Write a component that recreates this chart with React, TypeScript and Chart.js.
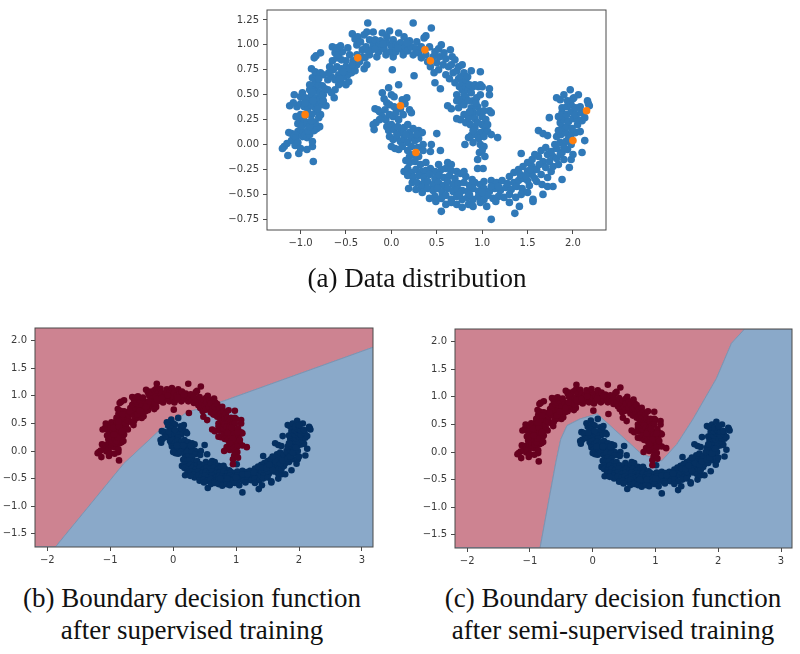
import React, { useEffect, useRef } from "react";
import { Chart, registerables } from "chart.js";

Chart.register(...registerables);

type P = [number, number];

const upperMoon: P[] = [
  [-1.2,-0.04],[-1.18,-0.02],[-1.15,0.01],[-1.14,-0.11],[-1.13,0.12],[-1.1,0.11],[-1.1,0.04],[-1.07,0.09],[-1.06,-0.01],[-1.05,0.07],
  [-1.03,0.02],[-1.02,-0.09],[-1,-0.04],[-1.03,0.13],[-1,0.15],[-0.98,0.08],[-0.97,0.12],[-0.95,0.1],[-0.93,0.07],[-0.93,-0.05],
  [-0.9,0.1],[-0.87,-0.02],[-0.87,0.03],[-0.86,-0.17],[-1.03,0.21],[-1.01,0.25],[-0.98,0.19],[-1.05,0.28],[-1,0.3],[-0.97,0.26],
  [-0.93,0.22],[-0.85,0.14],[-0.86,0.18],[-0.82,0.16],[-0.79,0.18],[-0.84,0.22],[-0.8,0.27],[-0.78,0.3],[-0.83,0.33],[-0.88,0.3],
  [-1.12,0.39],[-1.04,0.38],[-1.08,0.42],[-1,0.41],[-0.96,0.38],[-0.92,0.36],[-0.89,0.4],[-0.85,0.38],[-0.82,0.41],[-0.76,0.4],
  [-0.72,0.39],[-1.07,0.5],[-1,0.48],[-0.98,0.52],[-0.95,0.47],[-0.91,0.46],[-0.88,0.5],[-0.83,0.47],[-0.79,0.45],[-0.75,0.44],
  [-0.9,0.55],[-0.86,0.57],[-0.82,0.54],[-0.78,0.52],[-0.75,0.5],[-0.84,0.62],[-0.8,0.6],[-0.76,0.59],[-0.73,0.56],[-0.9,0.6],
  [-0.87,0.67],[-0.83,0.7],[-0.88,0.76],[-0.84,0.73],[-0.78,0.72],[-0.75,0.7],[-0.85,0.87],[-0.83,0.89],[-0.78,0.92],
  [-0.7,0.55],[-0.66,0.52],[-0.63,0.47],[-0.62,0.55],[-0.58,0.6],[-0.7,0.65],[-0.66,0.68],[-0.62,0.65],[-0.55,0.62],[-0.5,0.6],
  [-0.47,0.63],[-0.58,0.7],[-0.52,0.68],[-0.48,0.7],[-0.44,0.72],[-0.68,0.78],[-0.64,0.75],[-0.6,0.78],[-0.55,0.76],[-0.5,0.78],
  [-0.46,0.76],[-0.4,0.74],[-0.65,0.84],[-0.6,0.87],[-0.55,0.85],[-0.5,0.84],[-0.46,0.9],[-0.62,0.92],[-0.58,0.9],[-0.54,0.93],
  [-0.65,0.98],[-0.6,0.97],[-0.56,0.99],[-0.48,0.97],[-0.42,0.84],[-0.38,0.8],[-0.35,0.83],[-0.32,0.88],[-0.3,0.76],[-0.27,0.8],
  [-0.43,1.11],[-0.4,1.06],[-0.37,1.08],[-0.38,1],[-0.34,1.03],[-0.3,1.1],[-0.26,1.22],[-0.27,1.13],[-0.24,1.05],[-0.32,0.95],
  [-0.28,0.98],[-0.24,0.9],[-0.22,0.95],[-0.2,1.13],[-0.2,1],[-0.18,1.05],[-0.16,0.88],[-0.14,0.93],[-0.14,0.99],[-0.12,1.04],
  [-0.1,1.12],[-0.08,0.96],[-0.06,0.9],[-0.05,1.02],[-0.05,1.08],[-0.02,1.14],[-0.01,0.93],[0,0.99],[0.02,1.05],[0.02,0.88],
  [0.01,0.75],[0.05,1],[0.05,0.93],[0.08,1.12],[0.1,1.02],[0.12,0.95],[0.13,0.9],[0.15,0.98],[0.14,1.08],[0.18,0.94],
  [0.2,1.04],[0.22,0.98],[0.24,0.9],[0.24,1.22],[0.25,0.69],[0.27,0.96],[0.28,1.03],[0.3,0.92],[0.33,0.98],[0.33,0.87],
  [0.36,1.07],[0.38,1.09],[0.38,0.9],[0.4,0.83],[0.42,0.98],[0.43,0.78],[0.44,1.17],[0.46,0.88],[0.47,0.72],[0.48,0.93],
  [0.48,0.62],[0.5,0.82],[0.52,0.75],[0.52,0.96],[0.53,0.88],[0.54,0.56],[0.55,1],[0.57,0.8],[0.58,0.92],[0.6,0.7],
  [0.6,0.86],[0.63,0.78],[0.64,0.66],[0.65,0.95],[0.67,0.88],[0.68,0.72],[0.66,0.8],[0.7,0.62],[0.7,0.85],[0.72,0.74],
  [0.72,0.5],[0.74,0.66],[0.74,0.78],[0.75,0.58],[0.76,0.68],[0.78,0.62],[0.78,0.8],[0.78,0.55],[0.8,0.72],[0.8,0.5],
  [0.82,0.65],[0.82,0.58],[0.84,0.68],[0.85,0.55],[0.86,0.6],[0.88,0.74],[0.88,0.52],[0.9,0.58],[0.92,0.6],[0.96,0.58],
  [0.98,0.6],[0.98,0.73],[1,0.58],[1.08,0.56],[1.08,0.5],[0.76,0.45],[0.72,0.44],[0.74,0.37],[0.78,0.42],[0.8,0.4],
  [0.82,0.48],[0.85,0.44],[0.88,0.37],[0.9,0.44],[0.94,0.47],[0.98,0.5],[0.62,0.39],[0.66,0.36],[0.72,0.26],[0.76,0.25],
  [0.8,0.3],[0.82,0.22],[0.85,0.27],[0.87,0.2],[0.9,0.32],[0.92,0.26],[0.95,0.38],[0.97,0.32],[1,0.28],[1.03,0.41],
  [1.04,0.25],[1.08,0.34],[1.1,0.32],[1,0.2],[1.03,0.15],[1.06,0.13],[0.98,0.12],[0.93,0.1],[0.88,0.09],[0.85,0.07],
  [0.9,0.02],[0.96,0.06],[1.02,0.08],[1.1,0.1],[1.17,0.07],[0.98,0],[1.02,-0.02],[0.97,-0.08],[0.95,-0.15],[1,-0.06],
  [0.95,-0.24],[1.03,-0.12],[0.81,0],[0.92,0.17],[0.95,0.22],[1.06,0.2],[0.9,0.14],[1.02,0.34],[0.86,0.33],[0.93,0.42],
  [-0.92,0.14],[-0.9,0.18],[-0.88,0.24],[-0.94,0.3],[-0.95,0.42],[-0.86,0.44],[-0.81,0.36],[-0.87,0.53],[-0.8,0.66],[-0.69,0.72],
  [-0.57,0.66],[-0.53,0.73],[-0.43,0.8],[-0.38,0.9],[-0.29,0.87],[-0.26,0.94],[-0.18,0.96],[-0.09,1.01],[0.07,0.97],[0.17,1.02],
];

const lowerMoon: P[] = [
  [-0.1,0.52],[-0.03,0.57],[0.08,0.6],[0,0.5],[-0.08,0.46],[0.03,0.48],[0.12,0.45],[0.17,0.47],[0.15,0.41],[-0.05,0.42],
  [-0.02,0.4],[-0.18,0.36],[-0.15,0.35],[-0.13,0.33],[0.1,0.36],[0.13,0.3],[0.2,0.35],[0.22,0.32],[-0.1,0.28],[-0.06,0.25],
  [-0.02,0.3],[0.02,0.28],[0.05,0.32],[0.08,0.25],[-0.13,0.25],[-0.17,0.22],[-0.2,0.2],[-0.19,0.15],[-0.05,0.18],[-0.03,0.14],
  [0,0.2],[0.03,0.15],[0.07,0.18],[0.1,0.12],[0.14,0.17],[0.18,0.2],[0.2,0.12],[0.24,0.16],[0.3,0.14],[0.34,0.12],
  [0.5,0.11],[-0.02,0.08],[0.02,0.05],[0.06,0.07],[0.1,0.03],[0.14,0.06],[0.18,0.02],[0.22,0.07],[0.26,0.04],[0.3,0.06],
  [0.35,0],[0.44,0],[0,-0.02],[0.04,-0.04],[0.08,-0.05],[0.12,-0.02],[0.18,-0.06],[0.22,-0.02],[0.29,-0.03],[0.35,-0.06],
  [0.43,-0.07],[0.54,-0.06],[0.2,-0.12],[0.24,-0.1],[0.3,-0.12],[0.16,-0.16],[0.2,-0.18],[0.26,-0.17],[0.32,-0.2],[0.38,-0.18],
  [0.52,-0.2],[0.62,-0.18],[0.66,-0.2],[0.14,-0.27],[0.18,-0.24],[0.22,-0.28],[0.27,-0.25],[0.33,-0.27],[0.38,-0.26],[0.43,-0.24],
  [0.48,-0.27],[0.55,-0.25],[0.6,-0.24],[0.66,-0.26],[0.72,-0.27],[0.18,-0.31],[0.24,-0.33],[0.3,-0.31],[0.36,-0.33],[0.42,-0.3],
  [0.48,-0.34],[0.53,-0.31],[0.58,-0.33],[0.64,-0.31],[0.7,-0.34],[0.76,-0.29],[0.82,-0.32],[0.89,-0.35],[0.8,-0.27],[1.01,-0.24],
  [0.23,-0.38],[0.28,-0.38],[0.35,-0.39],[0.4,-0.37],[0.46,-0.4],[0.52,-0.38],[0.57,-0.41],[0.62,-0.37],[0.68,-0.4],[0.74,-0.39],
  [0.8,-0.38],[0.86,-0.41],[0.92,-0.38],[0.98,-0.4],[1.02,-0.37],[1.1,-0.36],[1.16,-0.38],[1.22,-0.36],[1.3,-0.32],[1.35,-0.38],
  [0.19,-0.44],[0.33,-0.43],[0.34,-0.48],[0.4,-0.44],[0.46,-0.46],[0.51,-0.44],[0.56,-0.48],[0.62,-0.44],[0.68,-0.47],[0.73,-0.45],
  [0.78,-0.46],[0.84,-0.47],[0.9,-0.44],[0.96,-0.47],[1.02,-0.44],[1.08,-0.47],[1.14,-0.44],[1.2,-0.46],[1.26,-0.43],[1.32,-0.45],
  [1.38,-0.42],[1.44,-0.44],[1.52,-0.41],[0.42,-0.54],[0.48,-0.52],[0.55,-0.54],[0.6,-0.51],[0.66,-0.55],[0.72,-0.52],[0.78,-0.55],
  [0.84,-0.53],[0.9,-0.55],[0.96,-0.52],[1.02,-0.55],[1.06,-0.51],[1.12,-0.54],[1.18,-0.52],[1.24,-0.53],[1.3,-0.5],[1.37,-0.53],
  [1.43,-0.5],[1.5,-0.48],[1.56,-0.55],[1.56,-0.57],[1.67,-0.5],[0.49,-0.57],[0.55,-0.67],[0.6,-0.6],[0.66,-0.58],[0.72,-0.6],
  [0.78,-0.63],[0.85,-0.6],[0.9,-0.62],[0.98,-0.58],[1.05,-0.62],[1.1,-0.75],[1.15,-0.57],[1.36,-0.69],[1.41,-0.62],[1.3,-0.58],
  [1.4,-0.36],[1.45,-0.34],[1.5,-0.36],[1.55,-0.3],[1.6,-0.37],[1.66,-0.4],[1.72,-0.42],[1.78,-0.42],[1.65,-0.3],[1.72,-0.33],
  [1.4,-0.25],[1.45,-0.22],[1.5,-0.27],[1.55,-0.22],[1.6,-0.25],[1.76,-0.27],[1.78,-0.22],[1.88,-0.35],[1.43,-0.09],[1.5,-0.18],
  [1.55,-0.15],[1.62,-0.12],[1.67,-0.17],[1.72,-0.1],[1.78,-0.12],[1.84,-0.2],[1.9,-0.15],[1.96,-0.23],[1.98,-0.15],[1.65,-0.06],
  [1.7,-0.03],[1.76,-0.07],[1.82,-0.04],[1.88,-0.08],[1.94,-0.05],[2,-0.1],[1.8,0],[1.86,0.02],[1.92,0.03],[1.98,0],
  [2.1,-0.08],[2.13,0.04],[1.62,0.14],[1.67,0.11],[1.72,0.09],[1.82,0.08],[1.87,0.1],[1.92,0.12],[1.98,0.1],[2.03,0.12],
  [2.08,0.13],[1.88,0.17],[1.93,0.18],[1.99,0.16],[2.05,0.2],[1.86,0.22],[1.9,0.25],[1.95,0.23],[2,0.26],[2.05,0.25],
  [2.1,0.24],[1.74,0.27],[1.84,0.28],[1.88,0.32],[1.93,0.3],[1.98,0.33],[2.03,0.3],[2.09,0.32],[2.13,0.27],[1.88,0.37],
  [1.93,0.38],[1.98,0.4],[2.03,0.37],[2.08,0.38],[1.82,0.47],[1.86,0.45],[1.9,0.5],[1.94,0.44],[2,0.46],[2.06,0.5],
  [1.97,0.55],[2.01,0.47],[2.16,0.44],[2.17,0.41],[2.18,0.39],
  [1.35,-0.28],[1.42,-0.3],[1.48,-0.31],[1.58,-0.34],[1.63,-0.2],[1.7,-0.23],[1.74,-0.17],[1.58,-0.1],[1.53,-0.25],[1.82,-0.14],
  [1.86,-0.1],[1.9,-0.03],[1.84,0.14],[1.95,0.06],[1.1,-0.42],[1.18,-0.42],[1.28,-0.39],[0.75,-0.5],[0.86,-0.5],[1,-0.48],
  [0.27,-0.45],[0.06,0.1],[0.16,0.1],[0.28,0.1],[-0.07,0.35],[0.03,0.38],
];

const labeledPoints: P[] = [
  [-0.95,0.3],[-0.37,0.87],[0.37,0.95],[0.43,0.84],[0.1,0.39],[0.27,-0.08],[2.15,0.34],[2,0.04],
];

const boundaryB: P[] = [
  [-2.195,-1.74],[-1.87,-1.74],[-0.785,-0.23],[-0.25,0.34],[0.22,0.7],[0.81,0.91],[3.175,1.88],
];
const boundaryC: P[] = [
  [-2.195,-1.74],[-0.84,-1.74],[-0.59,-0.2],[-0.51,0.23],[-0.41,0.48],[-0.2,0.6],[0.07,0.69],[0.78,-0.04],[1.1,-0.16],
  [1.34,0.14],[1.6,0.6],[1.97,1.33],[2.21,1.97],[2.42,2.23],[3.175,2.23],
];

const xTicksTop = [-1, -0.5, 0, 0.5, 1, 1.5, 2];
const yTicksTop = [-0.75, -0.5, -0.25, 0, 0.25, 0.5, 0.75, 1, 1.25];
const xTicksBottom = [-2, -1, 0, 1, 2, 3];
const yTicksBottom = [-1.5, -1, -0.5, 0, 0.5, 1, 1.5, 2];

const captionA = ["(a) Data distribution"];
const captionB = ["(b) Boundary decision function", "after supervised training"];
const captionC = ["(c) Boundary decision function", "after semi-supervised training"];

const toXY = (a: P[]) => a.map(([x, y]) => ({ x, y }));
const TICK_FONT = { family: "'DejaVu Sans'", size: 10 };
const INK = "#3a3a3a";

const frame = {
  id: "frame",
  afterDraw(c: any) {
    const { left, top, right, bottom } = c.chartArea;
    const g = c.ctx;
    g.save();
    g.strokeStyle = "#4a4a4a";
    g.lineWidth = 1;
    g.strokeRect(left, top, right - left, bottom - top);
    g.restore();
  },
};

function axis(min: number, max: number, ticks: number[], digits: number, fixed: number, key: "width" | "height", pad: number) {
  return {
    type: "linear",
    min,
    max,
    border: { display: false },
    grid: { drawOnChartArea: false, drawTicks: true, tickLength: 4, tickColor: "#4a4a4a", tickWidth: 1 },
    ticks: {
      font: TICK_FONT,
      color: INK,
      padding: pad,
      maxRotation: 0,
      autoSkip: false,
      callback: (v: any) => Number(v).toFixed(digits).replace("-", "\u2212"),
    },
    afterBuildTicks: (s: any) => {
      s.ticks = ticks.map((value) => ({ value }));
    },
    afterFit: (s: any) => {
      s[key] = fixed;
    },
  };
}

function Plot(props: {
  box: { left: number; top: number; width: number; height: number };
  padding: any;
  axisW: number;
  axisH: number;
  xr: [number, number];
  yr: [number, number];
  xt: number[];
  yt: number[];
  xd: number;
  yd: number;
  datasets: any[];
}) {
  const ref = useRef<HTMLCanvasElement>(null);
  useEffect(() => {
    const chart = new Chart(ref.current!, {
      type: "scatter",
      data: { datasets: props.datasets },
      options: {
        animation: false,
        responsive: false,
        layout: { padding: props.padding },
        plugins: { legend: { display: false }, tooltip: { enabled: false } },
        scales: {
          x: axis(props.xr[0], props.xr[1], props.xt, props.xd, props.axisH, "height", 3),
          y: axis(props.yr[0], props.yr[1], props.yt, props.yd, props.axisW, "width", 4),
        } as any,
      },
      plugins: [frame],
    } as any);
    return () => chart.destroy();
  }, []);
  const { left, top, width, height } = props.box;
  return (
    <canvas
      ref={ref}
      width={width}
      height={height}
      style={{ position: "absolute", left, top, width, height, filter: "blur(0.6px)" }}
    />
  );
}

const scatterSet = (pts: P[], color: string, r: number, order: number) => ({
  data: toXY(pts),
  backgroundColor: color,
  borderColor: color,
  pointRadius: r,
  borderWidth: 0,
  pointBorderWidth: 0,
  showLine: false,
  order,
});

const regionSets = (pts: P[]) => [
  {
    data: toXY(pts),
    showLine: true,
    pointRadius: 0,
    tension: 0,
    borderColor: "#7f93b0",
    borderWidth: 1,
    fill: "end",
    backgroundColor: "#cd8391",
    order: 10,
  },
  {
    data: toXY(pts),
    showLine: true,
    pointRadius: 0,
    tension: 0,
    borderColor: "#7f93b0",
    borderWidth: 1,
    fill: "start",
    backgroundColor: "#8aa9c9",
    order: 9,
  },
];

function Caption({ lines, cx, top }: { lines: string[]; cx: number; top: number }) {
  return (
    <div
      style={{
        position: "absolute",
        left: cx - 220,
        top,
        width: 440,
        textAlign: "center",
        fontFamily: "'Liberation Serif', serif",
        fontSize: 27,
        lineHeight: "32px",
        color: "#111",
      }}
    >
      {lines.map((l) => (
        <div key={l}>{l}</div>
      ))}
    </div>
  );
}

export default function App() {
  const bottomRange: [number, number] = [-2.195, 3.175];
  const bottomY: [number, number] = [-1.74, 2.23];
  return (
    <div style={{ position: "absolute", left: 0, top: 0, width: 800, height: 654, background: "#fff", overflow: "hidden" }}>
      <Plot
        box={{ left: 215, top: 0, width: 400, height: 262 }}
        padding={{ top: 10, right: 9, bottom: 0, left: 0 }}
        axisW={52}
        axisH={32}
        xr={[-1.37, 2.364]}
        yr={[-0.857, 1.35]}
        xt={xTicksTop}
        yt={yTicksTop}
        xd={1}
        yd={2}
        datasets={[
          scatterSet(labeledPoints, "#ff7f0e", 3.8, 1),
          scatterSet(upperMoon, "#3079b8", 3.8, 2),
          scatterSet(lowerMoon, "#3079b8", 3.8, 3),
        ]}
      />
      <Caption lines={captionA} cx={417} top={262} />
      <Plot
        box={{ left: 0, top: 318, width: 385, height: 250 }}
        padding={{ top: 10, right: 12, bottom: 0, left: 0 }}
        axisW={35}
        axisH={21}
        xr={bottomRange}
        yr={bottomY}
        xt={xTicksBottom}
        yt={yTicksBottom}
        xd={0}
        yd={1}
        datasets={[
          scatterSet(upperMoon, "#67001f", 3.3, 1),
          scatterSet(lowerMoon, "#053061", 3.3, 2),
          ...regionSets(boundaryB),
        ]}
      />
      <Caption lines={captionB} cx={192} top={582} />
      <Plot
        box={{ left: 415, top: 319, width: 385, height: 250 }}
        padding={{ top: 10, right: 8, bottom: 0, left: 0 }}
        axisW={40}
        axisH={21}
        xr={bottomRange}
        yr={bottomY}
        xt={xTicksBottom}
        yt={yTicksBottom}
        xd={0}
        yd={1}
        datasets={[
          scatterSet(upperMoon, "#67001f", 3.3, 1),
          scatterSet(lowerMoon, "#053061", 3.3, 2),
          ...regionSets(boundaryC),
        ]}
      />
      <Caption lines={captionC} cx={613} top={582} />
    </div>
  );
}
